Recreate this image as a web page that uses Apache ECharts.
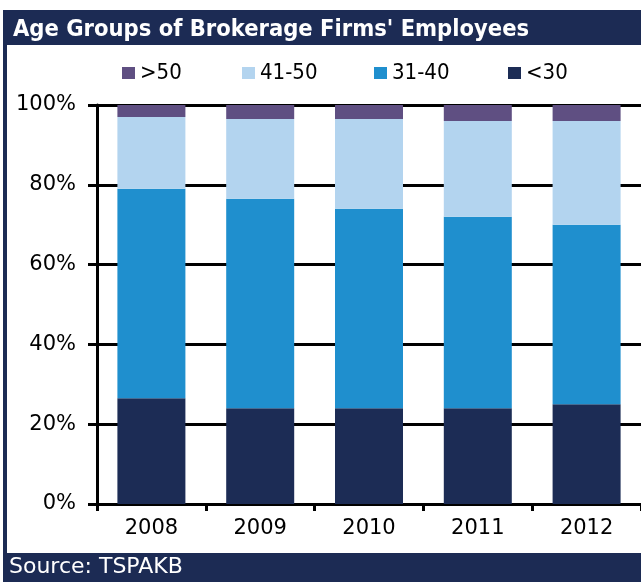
<!DOCTYPE html>
<html>
<head>
<meta charset="utf-8">
<script src="https://cdn.jsdelivr.net/npm/echarts@6/dist/echarts.min.js"></script>
<style>
  html, body { margin: 0; padding: 0; background: #fff; }
  #chart { width: 641px; height: 582px; }
</style>
</head>
<body>
<div id="chart"></div>
<script>
// 数据
const years = ['2008', '2009', '2010', '2011', '2012'];
const under30 = [26.5, 24, 24, 24, 25];
const age31to40 = [52.5, 52.5, 50, 48, 45];
const age41to50 = [18, 20, 22.5, 24, 26];
const over50 = [3, 3.5, 3.5, 4, 4];
const yTicks = [0, 20, 40, 60, 80, 100];

const FONT = '"DejaVu Sans", sans-serif';
const FONT_C = '"DejaVu Sans Condensed", "DejaVu Sans", sans-serif';
const NAVY = '#1c2b54';

const seriesDefs = [
  { name: '<30', data: under30, color: '#1c2c55' },
  { name: '31-40', data: age31to40, color: '#1f8fce' },
  { name: '41-50', data: age41to50, color: '#b3d4ef' },
  { name: '>50', data: over50, color: '#5f4f82' },
];

// 图例位置（每项单独放）
const legendLefts = { '>50': 122, '41-50': 242, '31-40': 374, '<30': 508 };

const chart = echarts.init(document.getElementById('chart'));
const option = {
  backgroundColor: '#fff',
  animation: false,
  title: {
    text: "Age Groups of Brokerage Firms' Employees",
    left: 8,
    top: 13,
    textStyle: { color: '#fff', fontFamily: FONT_C, fontWeight: 'bold', fontSize: 23.5 },
  },
  legend: Object.keys(legendLefts).map(name => ({
    data: [name],
    left: legendLefts[name],
    top: 62,
    padding: 0,
    itemWidth: 13,
    itemHeight: 12,
    itemGap: 0,
    icon: 'rect',
    textStyle: { fontFamily: FONT_C, fontSize: 22, color: '#000' },
  })),
  grid: { left: 97, right: 0, top: 105, bottom: 78 },
  xAxis: {
    type: 'category',
    data: years,
    axisLine: { lineStyle: { color: '#000', width: 3 } },
    axisTick: { show: true, length: 7, lineStyle: { color: '#000', width: 3 } },
    axisLabel: { fontFamily: FONT, fontSize: 21, color: '#000', margin: 14 },
  },
  yAxis: {
    type: 'value',
    min: 0,
    max: 100,
    interval: 20,
    axisLine: { show: true, lineStyle: { color: '#000', width: 3 } },
    axisTick: { show: true, length: 9, lineStyle: { color: '#000', width: 3 } },
    axisLabel: {
      fontFamily: FONT, fontSize: 21, color: '#000', margin: 21,
      formatter: v => (yTicks.includes(v) ? v + '%' : ''),
    },
    splitLine: { show: true, lineStyle: { color: '#000', width: 3 } },
  },
  series: seriesDefs.map(s => ({
    name: s.name,
    type: 'bar',
    stack: 'total',
    barWidth: 68,
    data: s.data,
    itemStyle: { color: s.color },
  })),
  graphic: [
    { type: 'rect', left: 3, top: 10, shape: { width: 638, height: 35 }, style: { fill: NAVY }, z: -1 },
    { type: 'rect', left: 3, top: 10, shape: { width: 4, height: 545 }, style: { fill: NAVY } },
    { type: 'rect', left: 3, top: 553, shape: { width: 638, height: 29 }, style: { fill: NAVY } },
    {
      type: 'text', left: 9, top: 556,
      style: { text: 'Source: TSPAKB', fill: '#fff', font: '22px ' + FONT },
    },
  ],
};
chart.setOption(option);
</script>
</body>
</html>
